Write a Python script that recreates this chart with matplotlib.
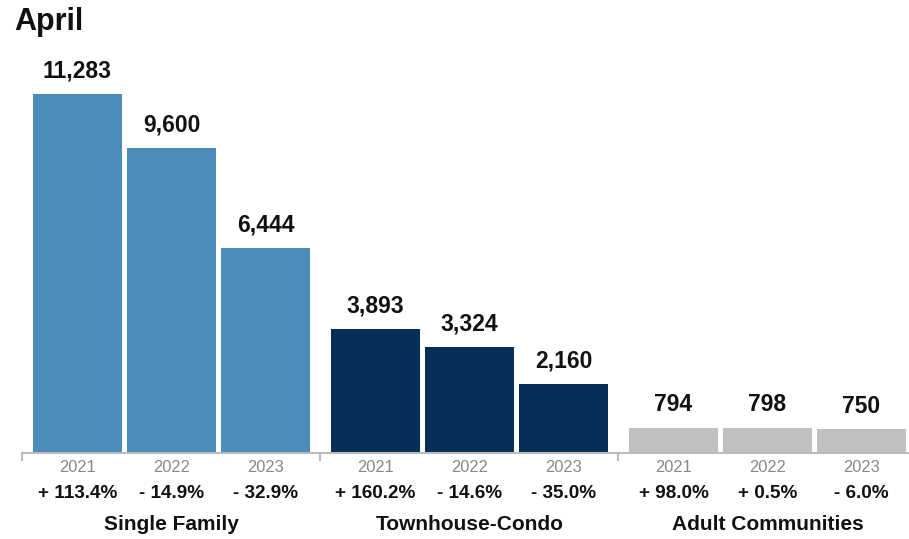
import numpy as np
import matplotlib
matplotlib.use("Agg")
from matplotlib import pyplot as plt

plt.rcParams['font.family'] = ['Liberation Sans', 'DejaVu Sans']

# data
groups = ['Single Family', 'Townhouse-Condo', 'Adult Communities']
years = ['2021', '2022', '2023']
values = [[11283, 9600, 6444],
          [3893, 3324, 2160],
          [794, 798, 750]]
changes = [['+ 113.4%', '- 14.9%', '- 32.9%'],
           ['+ 160.2%', '- 14.6%', '- 35.0%'],
           ['+ 98.0%', '+ 0.5%', '- 6.0%']]
colors = ['#4A8DB8', '#062F57', '#C0C0C0']

W, H = 909, 539
fig = plt.figure(figsize=(W / 100, H / 100), dpi=100)

# axes in pixel terms: baseline at y=453, left at x=22
base_y = 453
px_per_unit = 359 / 11283
ymax = 12000
ax_h = ymax * px_per_unit
ax = fig.add_axes([22 / W, (H - base_y) / H, (W - 22) / W, ax_h / H])
ax.set_xlim(0, W - 22)
ax.set_ylim(0, ymax)

group_w = 298
slot = 94
bar_w = 89
pad = 11

for g in range(3):
    start = g * group_w
    xs = start + pad + bar_w / 2 + np.arange(3) * slot
    ax.bar(xs, values[g], width=bar_w, color=colors[g])
    for j in range(3):
        ax.annotate('{:,}'.format(values[g][j]), (xs[j], values[g][j]),
                    xytext=(0, 23 * 0.72), textcoords='offset points',
                    ha='center', va='center', fontsize=16.5, fontweight='bold',
                    color='#111111')
        ax.annotate(years[j], (xs[j], 0), xycoords=('data', 'axes fraction'),
                    xytext=(0, -14 * 0.72), textcoords='offset points',
                    ha='center', va='center', fontsize=11.8, color='#888888')
        ax.annotate(changes[g][j], (xs[j], 0), xycoords=('data', 'axes fraction'),
                    xytext=(0, -40 * 0.72), textcoords='offset points',
                    ha='center', va='center', fontsize=13.6, fontweight='bold',
                    color='#111111')
    ax.annotate(groups[g], (xs[1], 0), xycoords=('data', 'axes fraction'),
                xytext=(0, -71 * 0.72), textcoords='offset points',
                ha='center', va='center', fontsize=15, fontweight='bold',
                color='#111111')

for s in ['top', 'right', 'left']:
    ax.spines[s].set_visible(False)
ax.spines['bottom'].set_color('#BBBBBB')
ax.spines['bottom'].set_linewidth(1.5)
ax.set_yticks([])
ax.set_xticks([0, group_w, 2 * group_w])
ax.set_xticklabels([])
ax.tick_params(axis='x', length=6, width=1.5, color='#BBBBBB', direction='out')

fig.text(14 / W, 1 - 22 / H, 'April', ha='left', va='center', fontsize=22,
         fontweight='bold', color='#111111')

fig.savefig('out.png', dpi=100)
